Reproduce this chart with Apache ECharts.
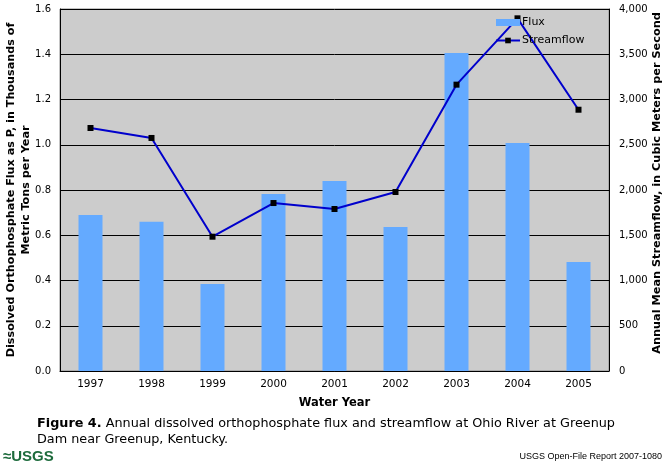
<!DOCTYPE html>
<html>
<head>
<meta charset="utf-8">
<script src="https://cdn.jsdelivr.net/npm/echarts@6/dist/echarts.min.js"></script>
<style>
html,body{margin:0;padding:0;background:#fff;}
#chart{width:669px;height:468px;}
</style>
</head>
<body>
<div id="chart"></div>
<script>
const years = ['1997','1998','1999','2000','2001','2002','2003','2004','2005'];
const flux = [0.69, 0.66, 0.385, 0.782, 0.84, 0.636, 1.405, 1.008, 0.482];
const streamflow = [2685, 2575, 1484, 1856, 1790, 1978, 3164, 3897, 2887];
const fluxTicks = [0, 1.6, 0.2];
const flowTicks = [0, 4000, 500];

const chart = echarts.init(document.getElementById('chart'), null, {renderer: 'canvas'});
const FONT = 'DejaVu Sans, Verdana, sans-serif';
chart.setOption({
  animation: false,
  backgroundColor: '#ffffff',
  grid: {left: 60, right: 60, top: 9, bottom: 97, containLabel: false, outerBoundsMode: 'none',
    show: true, backgroundColor: '#cccccc', borderColor: '#8a8a8a', borderWidth: 1},
  legend: {
    orient: 'vertical', left: 490, top: 12, itemWidth: 24, itemHeight: 7, itemGap: 7,
    textStyle: {fontFamily: FONT, fontSize: 11, color: '#000', padding: [0,0,0,-3]},
    data: [{name: 'Flux', icon: 'rect'}, {name: 'Streamflow'}]
  },
  xAxis: {
    type: 'category', data: years,
    name: 'Water Year', nameLocation: 'middle', nameGap: 26, nameMoveOverlap: false,
    nameTextStyle: {fontFamily: FONT, fontSize: 11.5, fontWeight: 'bold', color: '#000'},
    axisLine: {lineStyle: {color: '#000', width: 1}},
    axisTick: {inside: true, length: 4, lineStyle: {color: '#000'}},
    axisLabel: {fontFamily: FONT, fontSize: 10.5, color: '#000', margin: 8}
  },
  yAxis: [{
    type: 'value', min: fluxTicks[0], max: fluxTicks[1], interval: fluxTicks[2],
    name: 'Dissolved Orthophosphate Flux as P, in Thousands of\nMetric Tons per Year',
    nameLocation: 'middle', nameGap: 26, nameRotate: 90, nameMoveOverlap: false,
    nameTextStyle: {fontFamily: FONT, fontSize: 11.2, fontWeight: 'bold', color: '#000', lineHeight: 15},
    axisLine: {show: true, lineStyle: {color: '#000'}},
    axisTick: {show: false},
    axisLabel: {fontFamily: FONT, fontSize: 10, color: '#000', margin: 9, formatter: v => v.toFixed(1)},
    splitLine: {lineStyle: {color: '#000', width: 1}}
  }, {
    type: 'value', min: flowTicks[0], max: flowTicks[1], interval: flowTicks[2], position: 'right',
    name: 'Annual Mean Streamflow, in Cubic Meters per Second',
    nameLocation: 'middle', nameGap: 43, nameRotate: 90, nameMoveOverlap: false,
    nameTextStyle: {fontFamily: FONT, fontSize: 11.3, fontWeight: 'bold', color: '#000', padding: [0,0,0,14]},
    axisLine: {show: true, lineStyle: {color: '#000'}},
    axisTick: {show: false},
    axisLabel: {fontFamily: FONT, fontSize: 10, color: '#000', margin: 10, formatter: v => v.toLocaleString('en-US')},
    splitLine: {show: false}
  }],
  series: [{
    name: 'Flux', type: 'bar', data: flux, barWidth: 24, yAxisIndex: 0,
    itemStyle: {color: '#64aaff'}
  }, {
    name: 'Streamflow', type: 'line', data: streamflow, yAxisIndex: 1,
    symbol: 'rect', symbolSize: 6, lineStyle: {color: '#0000cc', width: 2},
    itemStyle: {color: '#000'}, z: 3
  }],
  graphic: [{
    type: 'text', left: 37, top: 416,
    style: {
      text: '{b|Figure 4.} Annual dissolved orthophosphate flux and streamflow at Ohio River at Greenup\nDam near Greenup, Kentucky.',
      rich: {b: {fontFamily: FONT, fontSize: 12.8, fontWeight: 'bold', fill: '#000', lineHeight: 16}},
      fontFamily: FONT, fontSize: 12.8, fill: '#000', lineHeight: 16
    }
  }, {
    type: 'text', left: 3, top: 449,
    style: {text: '≈USGS', fontFamily: 'Liberation Sans Narrow, Liberation Sans, sans-serif', fontSize: 15, fontWeight: 'bold', fill: '#1d6b3c'}
  }, {
    type: 'text', right: 7, top: 452,
    style: {text: 'USGS Open-File Report 2007-1080', fontFamily: 'Liberation Sans Narrow, Liberation Sans, sans-serif', fontSize: 9, fill: '#000'}
  }]
});
</script>
</body>
</html>
